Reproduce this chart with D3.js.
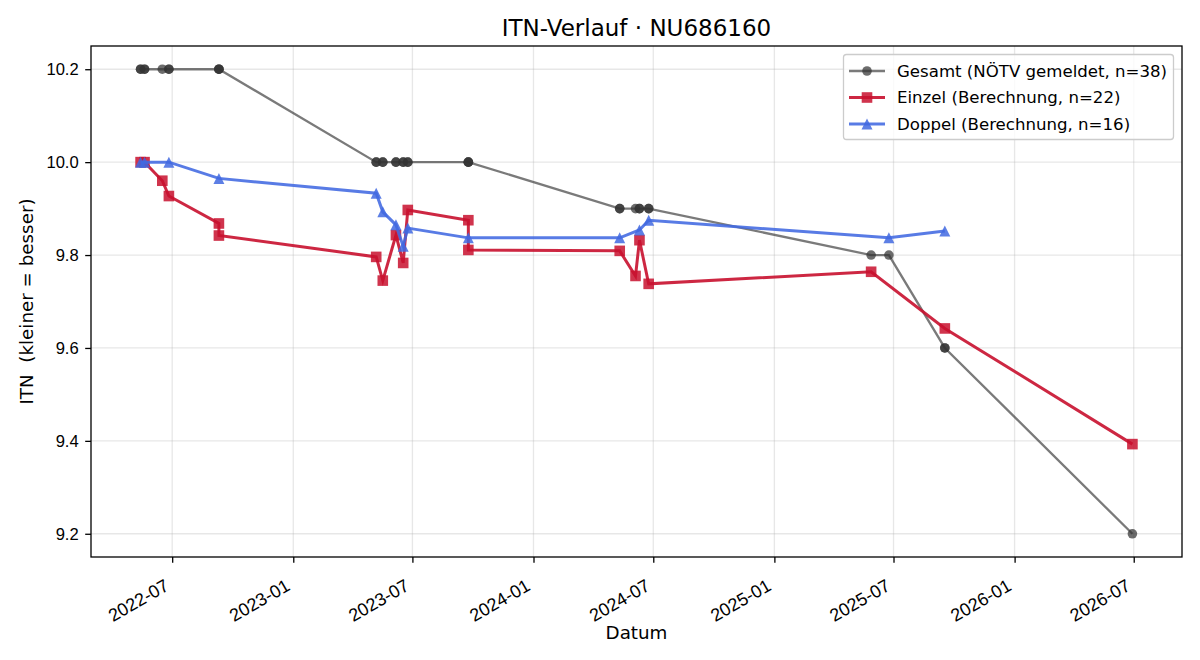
<!DOCTYPE html>
<html>
<head>
<meta charset="utf-8">
<script src="https://cdn.jsdelivr.net/npm/d3@7/dist/d3.min.js"></script>
<style>
  body { margin: 0; background: #fff; }
  svg { font-family: "DejaVu Sans", sans-serif; }
</style>
</head>
<body>
<svg id="chart" width="1200" height="660"></svg>
<script>
// Einzel (Berechnung)
const einzelDates = ["2022-05-14", "2022-05-20", "2022-06-16", "2022-06-26", "2022-09-10", "2022-09-10",
    "2023-05-07", "2023-05-17", "2023-06-06", "2023-06-17", "2023-06-24", "2023-09-24", "2023-09-24",
    "2024-05-11", "2024-06-04", "2024-06-10", "2024-06-24", "2025-05-28", "2025-09-17", "2026-06-29"];
const einzelValues = [10.0, 10.0, 9.96, 9.927, 9.868, 9.842,
    9.796, 9.745, 9.843, 9.783, 9.897, 9.875, 9.811,
    9.809, 9.755, 9.832, 9.738, 9.764, 9.642, 9.393];

// Doppel (Berechnung)
const doppelDates = ["2022-05-14", "2022-05-20", "2022-06-26", "2022-09-10",
    "2023-05-07", "2023-05-17", "2023-06-06", "2023-06-17", "2023-06-24", "2023-09-24",
    "2024-05-11", "2024-06-10", "2024-06-24", "2025-06-24", "2025-09-17"];
const doppelValues = [10.0, 10.0, 10.0, 9.965,
    9.933, 9.893, 9.865, 9.819, 9.858, 9.837,
    9.837, 9.854, 9.875, 9.837, 9.852];

// Gesamt (NÖTV gemeldet) - one entry per tournament, so dates repeat
const gesamtDates = ["2022-05-14", "2022-05-14", "2022-05-20", "2022-05-20", "2022-06-16", "2022-06-26", "2022-06-26",
    "2022-09-10", "2022-09-10", "2022-09-10",
    "2023-05-07", "2023-05-07", "2023-05-17", "2023-05-17", "2023-06-06", "2023-06-06",
    "2023-06-17", "2023-06-17", "2023-06-24", "2023-06-24", "2023-09-24", "2023-09-24", "2023-09-24",
    "2024-05-11", "2024-05-11", "2024-06-04", "2024-06-10", "2024-06-10", "2024-06-24", "2024-06-24",
    "2025-05-28", "2025-06-24", "2025-09-17", "2025-09-17", "2026-06-29"];
const gesamtValues = [10.2, 10.2, 10.2, 10.2, 10.2, 10.2, 10.2,
    10.2, 10.2, 10.2,
    10.0, 10.0, 10.0, 10.0, 10.0, 10.0,
    10.0, 10.0, 10.0, 10.0, 10.0, 10.0, 10.0,
    9.9, 9.9, 9.9, 9.9, 9.9, 9.9, 9.9,
    9.8, 9.8, 9.6, 9.6, 9.2];

const yTicks = [9.2, 9.4, 9.6, 9.8, 10.0, 10.2];
const xTicks = ["2022-07", "2023-01", "2023-07", "2024-01", "2024-07", "2025-01", "2025-07", "2026-01", "2026-07"];

const legendLabels = ["Gesamt (NÖTV gemeldet, n=38)", "Einzel (Berechnung, n=22)", "Doppel (Berechnung, n=16)"];

const parseDate = d3.timeParse("%Y-%m-%d");
const parseMonth = d3.timeParse("%Y-%m");

const toPoints = (dates, values) => dates.map((d, i) => ({ date: parseDate(d), value: values[i] }));
const gesamt = toPoints(gesamtDates, gesamtValues);
const einzel = toPoints(einzelDates, einzelValues);
const doppel = toPoints(doppelDates, doppelValues);

const margin = { top: 46, right: 18, bottom: 103, left: 91 };
const width = 1200 - margin.left - margin.right;
const height = 660 - margin.top - margin.bottom;

const GREY = "#333", RED = "#c8102e", BLUE = "#4169e1";

const svg = d3.select("#chart");
const g = svg.append("g").attr("transform", `translate(${margin.left},${margin.top})`);

// 5% padding like matplotlib
const allPts = gesamt.concat(einzel, doppel);
const tExt = d3.extent(allPts, d => +d.date);
const tPad = (tExt[1] - tExt[0]) * 0.05;
const vExt = d3.extent(allPts, d => d.value);
const vPad = (vExt[1] - vExt[0]) * 0.05;

const x = d3.scaleTime()
    .domain([new Date(tExt[0] - tPad), new Date(tExt[1] + tPad)])
    .range([0, width]);
const y = d3.scaleLinear()
    .domain([vExt[0] - vPad, vExt[1] + vPad])
    .range([height, 0]);

const xTickDates = xTicks.map(parseMonth);

// grid
g.append("g").selectAll("line")
    .data(xTickDates).enter().append("line")
    .attr("x1", d => x(d)).attr("x2", d => x(d))
    .attr("y1", 0).attr("y2", height)
    .style("stroke", "#b0b0b0").style("stroke-opacity", 0.3).style("stroke-width", 1.3);
g.append("g").selectAll("line")
    .data(yTicks).enter().append("line")
    .attr("x1", 0).attr("x2", width)
    .attr("y1", d => y(d)).attr("y2", d => y(d))
    .style("stroke", "#b0b0b0").style("stroke-opacity", 0.3).style("stroke-width", 1.3);

// axes
const xAxis = g.append("g")
    .attr("transform", `translate(0,${height})`)
    .call(d3.axisBottom(x).tickValues(xTickDates).tickSize(5.8).tickPadding(5.8).tickFormat(d3.timeFormat("%Y-%m")));
xAxis.select(".domain").remove();
xAxis.selectAll("line").style("stroke", "#000").style("stroke-width", 1.3);
xAxis.selectAll("text")
    .style("font-size", "18px")
    .style("fill", "#000")
    .attr("text-anchor", "end")
    .attr("x", 0).attr("y", 0).attr("dy", "0.72em")
    .attr("transform", "translate(-9,21) rotate(-30)");

const yAxis = g.append("g")
    .call(d3.axisLeft(y).tickValues(yTicks).tickSize(5.8).tickPadding(6.5).tickFormat(d3.format(".1f")));
yAxis.select(".domain").remove();
yAxis.selectAll("line").style("stroke", "#000").style("stroke-width", 1.3);
yAxis.selectAll("text").style("font-size", "16.6px").style("fill", "#000");

// series
const line = d3.line().x(d => x(d.date)).y(d => y(d.value));
const triPath = "M0,-5.5L-5.5,5.5L5.5,5.5Z";

g.append("path")
    .datum(gesamt)
    .attr("d", line)
    .style("fill", "none")
    .style("stroke", GREY)
    .style("stroke-opacity", 0.65)
    .style("stroke-width", 2.3);
g.append("g").selectAll("circle")
    .data(gesamt).enter().append("circle")
    .attr("cx", d => x(d.date)).attr("cy", d => y(d.value))
    .attr("r", 4.8)
    .style("fill", GREY).style("fill-opacity", 0.72);

g.append("path")
    .datum(einzel)
    .attr("d", line)
    .style("fill", "none")
    .style("stroke", RED)
    .style("stroke-opacity", 0.9)
    .style("stroke-width", 3);
g.append("g").selectAll("rect")
    .data(einzel).enter().append("rect")
    .attr("x", d => x(d.date) - 5.3).attr("y", d => y(d.value) - 5.3)
    .attr("width", 10.6).attr("height", 10.6)
    .style("fill", RED).style("fill-opacity", 0.85);

g.append("path")
    .datum(doppel)
    .attr("d", line)
    .style("fill", "none")
    .style("stroke", BLUE)
    .style("stroke-opacity", 0.88)
    .style("stroke-width", 3);
g.append("g").selectAll("path")
    .data(doppel).enter().append("path")
    .attr("d", triPath)
    .attr("transform", d => `translate(${x(d.date)},${y(d.value)})`)
    .style("fill", BLUE).style("fill-opacity", 0.85);

// frame
g.append("rect")
    .attr("width", width).attr("height", height)
    .style("fill", "none").style("stroke", "#000").style("stroke-width", 1.3);

// labels
svg.append("text")
    .attr("x", margin.left + width / 2).attr("y", 36)
    .attr("text-anchor", "middle")
    .style("font-size", "23px")
    .text("ITN-Verlauf · NU686160");
svg.append("text")
    .attr("x", margin.left + width / 2).attr("y", 639)
    .attr("text-anchor", "middle")
    .style("font-size", "18.3px")
    .text("Datum");
svg.append("text")
    .attr("transform", `translate(32.5,${margin.top + height / 2}) rotate(-90)`)
    .attr("text-anchor", "middle")
    .style("font-size", "18.3px")
    .style("white-space", "pre")
    .text("ITN  (kleiner = besser)");

// legend
const leg = svg.append("g").attr("transform", "translate(843,54)");
leg.append("rect")
    .attr("x", 0.5).attr("y", 0.5).attr("width", 330).attr("height", 85).attr("rx", 3)
    .style("fill", "#fff").style("fill-opacity", 0.8)
    .style("stroke", "#ccc").style("stroke-width", 1.3);
const legColors = [GREY, RED, BLUE];
const legOpac = [0.65, 0.9, 0.88];
legendLabels.forEach((lbl, i) => {
    const ly = 17 + i * 26.5;
    leg.append("line")
        .attr("x1", 6).attr("x2", 42).attr("y1", ly).attr("y2", ly)
        .style("stroke", legColors[i]).style("stroke-opacity", legOpac[i])
        .style("stroke-width", i == 0 ? 2.3 : 3);
    if (i == 0) {
        leg.append("circle").attr("cx", 24).attr("cy", ly).attr("r", 4.8)
            .style("fill", GREY).style("fill-opacity", 0.72);
    } else if (i == 1) {
        leg.append("rect").attr("x", 24 - 5.3).attr("y", ly - 5.3).attr("width", 10.6).attr("height", 10.6)
            .style("fill", RED).style("fill-opacity", 0.85);
    } else {
        leg.append("path").attr("d", triPath).attr("transform", `translate(24,${ly})`)
            .style("fill", BLUE).style("fill-opacity", 0.85);
    }
    leg.append("text")
        .attr("x", 54).attr("y", ly).attr("dy", "0.35em")
        .style("font-size", "16.6px")
        .text(lbl);
});
</script>
</body>
</html>
